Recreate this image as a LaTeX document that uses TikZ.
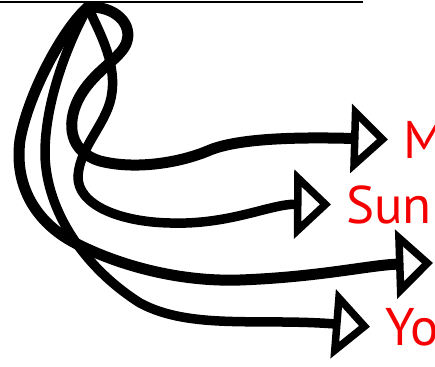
\documentclass[tikz,border=0pt]{standalone}
\usepackage{fontspec}
\setmainfont{PT Sans}
\usepackage{tikz}
\usetikzlibrary{arrows.meta,positioning}
\definecolor{labelred}{RGB}{245,0,0}

\begin{document}
\begin{tikzpicture}[x=1pt,y=-1pt,
flow/.style={line width=9.5pt,line cap=round,
-{Triangle[open,length=37pt,width=68pt,line width=7.5pt]}},
lbl/.style={text=labelred,font=\fontsize{53}{60}\selectfont,anchor=base west,
inner xsep=15pt,inner ysep=0pt}]
\useasboundingbox (0,0) rectangle (435,366);
\clip (0,0) rectangle (435,366);
\coordinate (top) at (88,7);
\coordinate (l) at (0,2);
\coordinate (r) at (363,2);
\coordinate (tip) at (433,263);
\node[lbl] (m) at (388,158) {M};
\node[lbl] (sun) at (331,223) {Sun};
\node[lbl] (yo) at (370,345) {Yo};
\draw[line width=2.5pt] (l)--(r);
\draw[flow,line width=11pt] (top) .. controls (115,6) and (134,24) .. (126,44)
.. controls (119,60) and (92,72) .. (78,100)
.. controls (66,125) and (70,152) .. (100,161)
.. controls (135,170) and (180,163) .. (210,150)
.. controls (240,138) and (300,137) .. (m.west);
\draw[flow] (top) .. controls (98,30) and (116,60) .. (112,92)
.. controls (109,122) and (80,145) .. (78,176)
.. controls (77,205) and (120,222) .. (170,223)
.. controls (230,225) and (270,204) .. (sun.west);
\draw[flow,line width=11pt] (top) .. controls (62,30) and (28,95) .. (20,140)
.. controls (14,185) and (35,222) .. (75,243)
.. controls (120,266) and (180,282) .. (240,280)
.. controls (320,277) and (370,265) .. (tip);
\draw[flow] (top) .. controls (72,35) and (46,95) .. (45,150)
.. controls (44,205) and (80,265) .. (140,303)
.. controls (190,330) and (260,318) .. (yo.west);
\end{tikzpicture}
\end{document}
